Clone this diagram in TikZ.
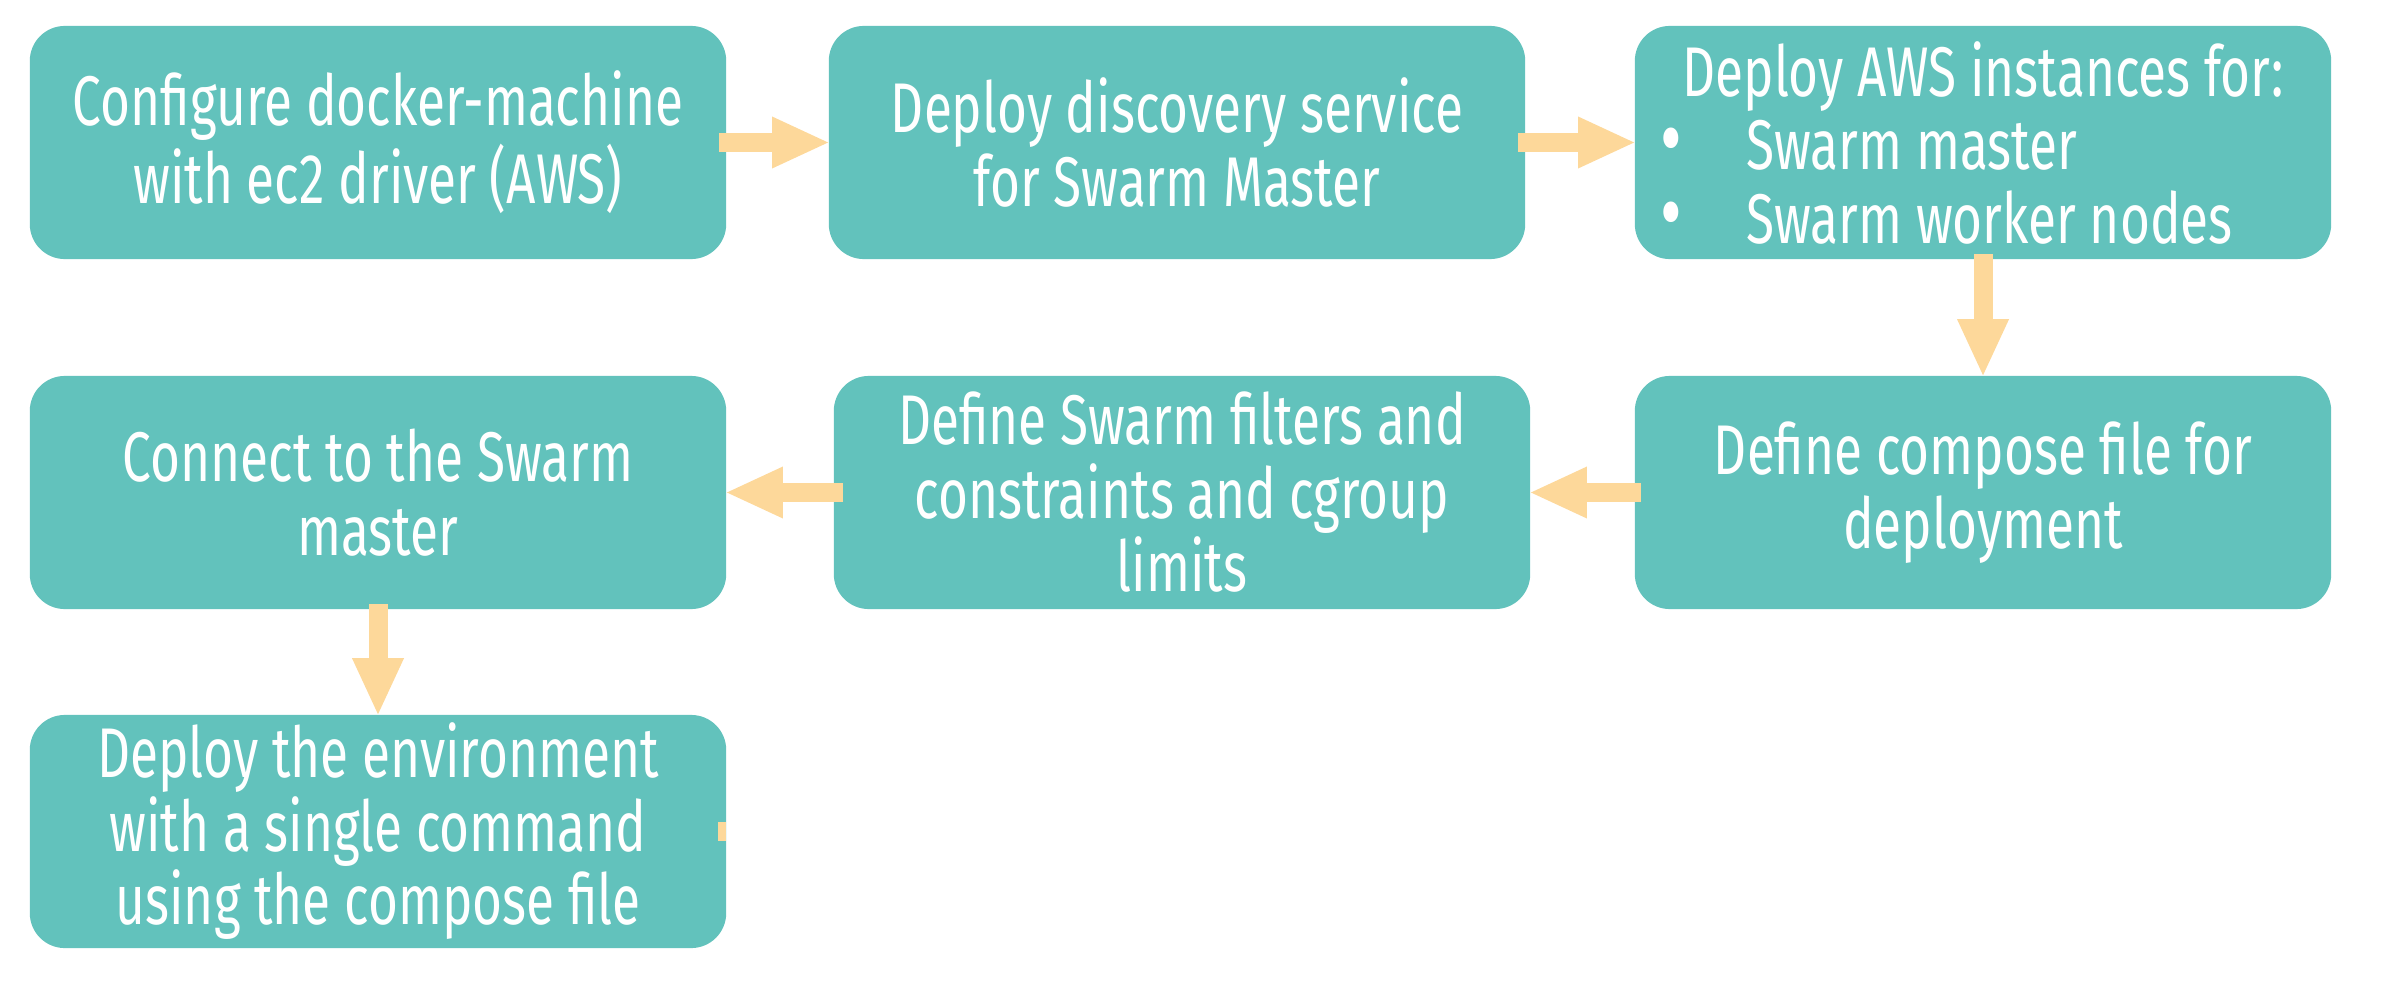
\documentclass[tikz,border=0pt]{standalone}
\usepackage{fontspec}
\setmainfont{Fira Sans}[FakeStretch=0.73]
\usetikzlibrary{arrows.meta}
\definecolor{boxteal}{RGB}{98,194,188}
\definecolor{arrowpeach}{RGB}{253,216,154}
\newcommand{\bulletmark}{\makebox[0.64cm][l]{\hspace{-0.22cm}\smash{\fontsize{26}{20}\selectfont•}}}
\begin{document}
\begin{tikzpicture}[x=0.01cm,y=-0.01cm,
  box/.style={fill=boxteal, rounded corners=0.35cm, minimum width=6.96cm, minimum height=2.33cm,
    text=white, font=\fontsize{20}{20.9}\selectfont, align=center, inner sep=0pt},
  flow/.style={draw=arrowpeach, line width=0.19cm,
    -{Triangle[width=0.52cm,length=0.56cm,line width=0pt]}}]
\useasboundingbox (0,0) rectangle (2386,982);
\node[box] (b1) at (378,142.5) {Configure docker-machine\\with ec2 driver (AWS)};
\node[box] (b2) at (1177,142.5) {Deploy discovery service\\for Swarm Master};
\node[box, align=left] (b3) at (1983,142.5) {Deploy AWS instances for:\\\bulletmark Swarm master\\\bulletmark Swarm worker nodes};
\node[box] (b4) at (378,492.5) {Connect to the Swarm\\master};
\node[box] (b5) at (1182,492.5) {Define Swarm filters and\\constraints and cgroup\\limits};
\node[box] (b6) at (1983,492.5) {Define compose file for\\deployment};
\node[box] (b7) at (378,831.5) {Deploy the environment\\with a single command\\using the compose file};
\draw[flow] ([xshift=-0.08cm]b1.east) -- (b2.west);
\draw[flow] ([xshift=-0.08cm]b2.east) -- (b3.west);
\draw[flow] ([yshift=0.06cm]b3.south) -- (b6.north);
\draw[flow] ([xshift=0.07cm]b6.west) -- (b5.east);
\draw[flow] ([xshift=0.1cm]b5.west) -- (b4.east);
\draw[flow] ([yshift=0.06cm]b4.south) -- (b7.north);
\fill[arrowpeach] (718,822) rectangle (726,841);
\end{tikzpicture}
\end{document}
